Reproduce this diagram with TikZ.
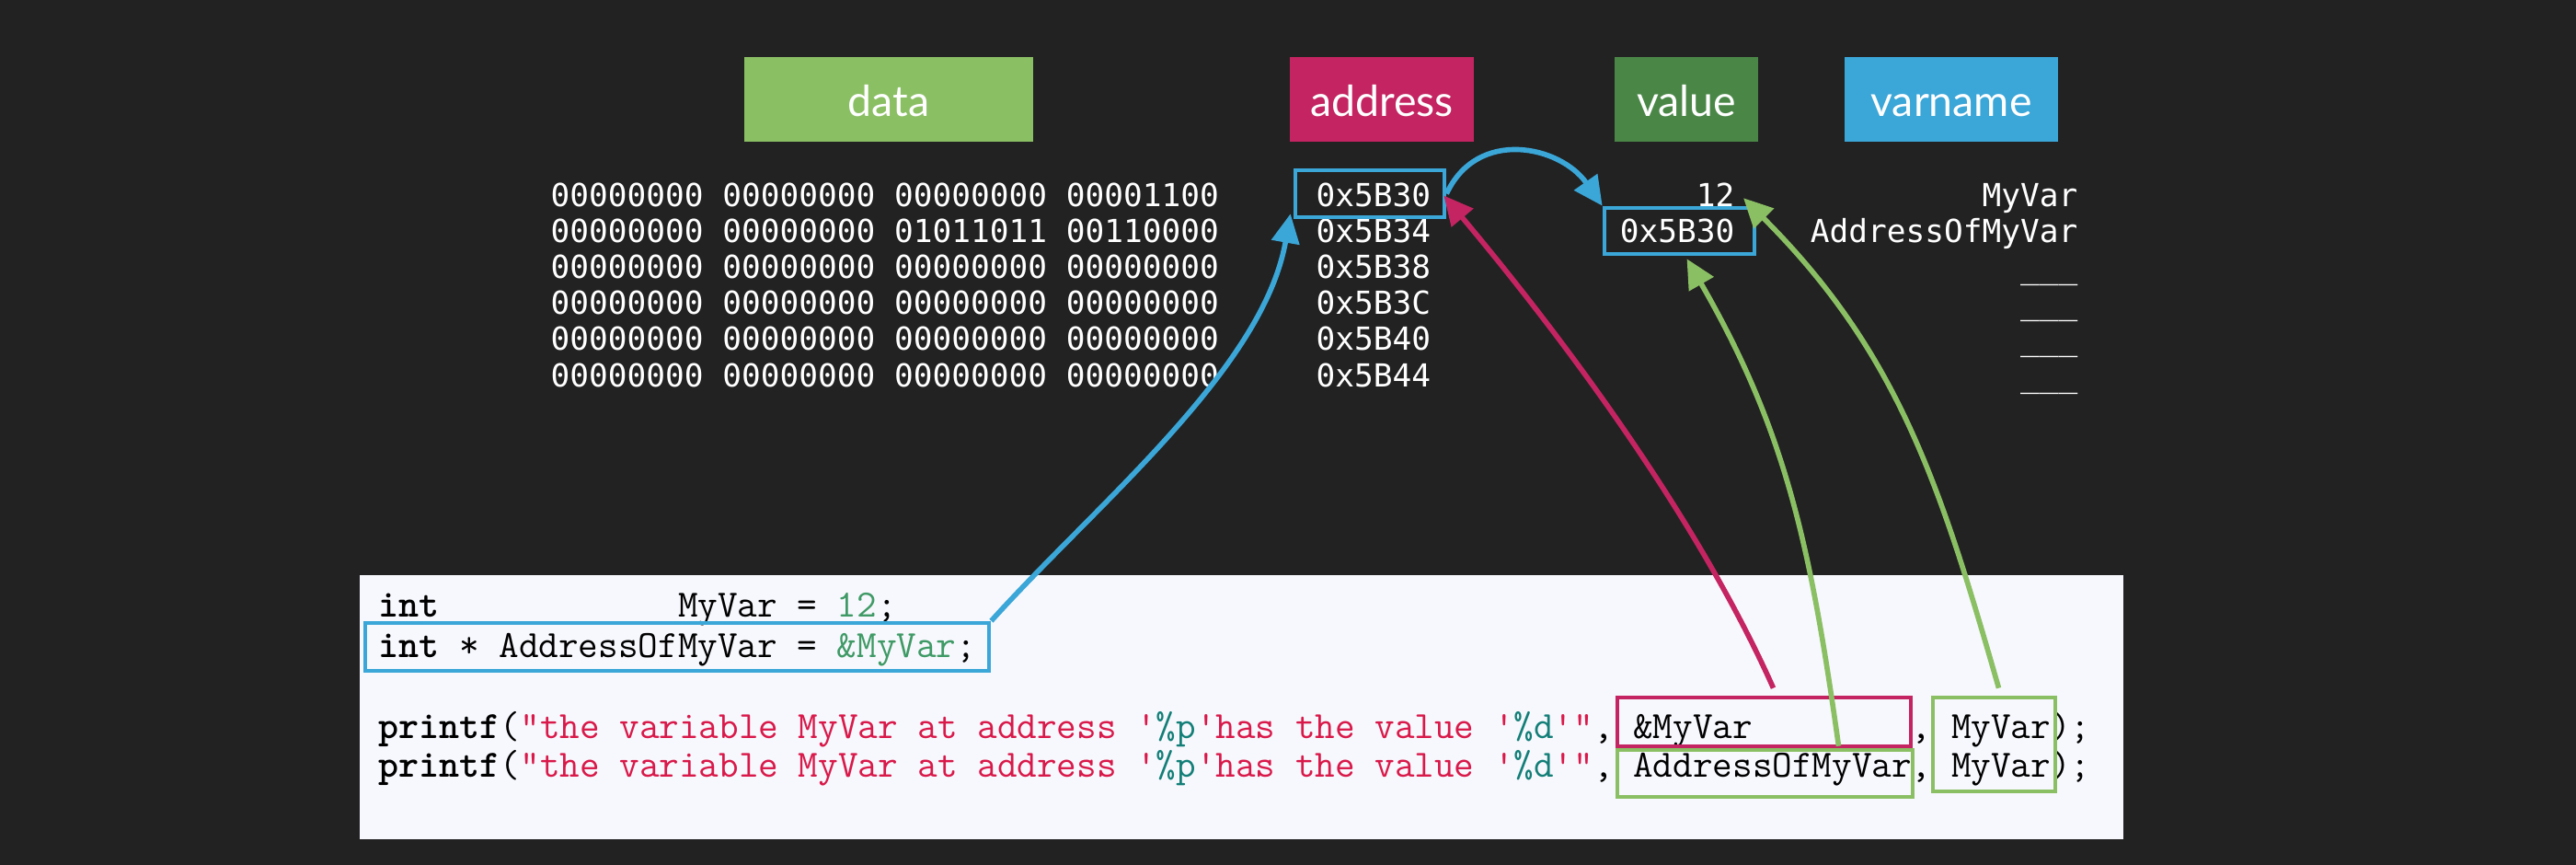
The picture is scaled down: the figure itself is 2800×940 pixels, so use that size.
\documentclass[tikz,border=0pt]{standalone}
\usepackage{fontspec}
\usepackage{xcolor}
\usepackage{tikz}
\usetikzlibrary{positioning}
\usetikzlibrary{arrows.meta}
\usetikzlibrary{math}

\setmainfont{Lato}
\newfontfamily\hexfont{DejaVu Sans Mono}

\definecolor{bgdark}{HTML}{222222}
\definecolor{datagreen}{HTML}{8BBF64}
\definecolor{addrred}{HTML}{C42461}
\definecolor{valgreen}{HTML}{4A8747}
\definecolor{nameblue}{HTML}{3BA6D8}
\definecolor{codebg}{HTML}{F7F8FD}
\definecolor{strred}{HTML}{D9194A}
\definecolor{fmtteal}{HTML}{137F78}
\definecolor{numgreen}{HTML}{3F9A66}

% code colouring
\newcommand{\ckw}[1]{{\bfseries #1}}
\newcommand{\cstr}[1]{\textcolor{strred}{#1}}
\newcommand{\cfmt}[1]{\textcolor{fmtteal}{#1}}
\newcommand{\clit}[1]{\textcolor{numgreen}{#1}}
\newcommand{\sq}{\textquotesingle}
\newcommand{\dq}{\textquotedbl}

\tikzset{
  head/.style={minimum height=0.92cm, inner sep=0pt, text=white, text height=13pt, text depth=2.5pt,
    font=\fontsize{13.2}{16}\selectfont},
  hexnum/.style={inner sep=0pt, text=white, font=\hexfont\fontsize{9.8}{12}\selectfont},
  codeline/.style={inner sep=0pt, anchor=base west, font=\ttfamily\fontsize{11.93}{14}\selectfont},
  hl/.style={draw, line width=1.3pt, inner sep=0pt},
  link/.style={line width=1.6pt, -{Triangle[length=9pt,width=8.5pt]}},
}

\begin{document}
\begin{tikzpicture}[x=0.01cm,y=0.01cm]

  \tikzmath{
    \rowsep = 39;  % distance between memory rows
    \rowtop = 225; % baseline of the first memory row
  }

  % Background
  \fill[bgdark] (0,0) rectangle (2800,-940);
  \useasboundingbox (0,0) rectangle (2800,-940);

  % Column headers
  \node[head, fill=datagreen, minimum width=3.14cm] (hdata) at (966,-108) {data};
  \node[head, fill=addrred, minimum width=2.00cm] (haddr) at (1502,-108) {address};
  \node[head, fill=valgreen, minimum width=1.56cm] (hval) at (1833,-108) {value};
  \node[head, fill=nameblue, minimum width=2.32cm] (hname) at (2121,-108) {varname};

  % Memory rows: bits and address
  \foreach \bits/\addr [count=\i] in {
      00000000 00000000 00000000 00001100/0x5B30,
      00000000 00000000 01011011 00110000/0x5B34,
      00000000 00000000 00000000 00000000/0x5B38,
      00000000 00000000 00000000 00000000/0x5B3C,
      00000000 00000000 00000000 00000000/0x5B40,
      00000000 00000000 00000000 00000000/0x5B44}{
    \node[hexnum, anchor=base west] (bits\i) at (598,{-\rowtop-\rowsep*(\i-1)}) {\bits};
    \node[hexnum, anchor=base west] (addr\i) at (1430,{-\rowtop-\rowsep*(\i-1)}) {\addr};
  }

  % Values and variable names
  \node[hexnum, anchor=base east] (v1) at (1886,-225) {12};
  \node[hexnum, anchor=base east] (v2) at (1886,-264) {0x5B30};
  \node[hexnum, anchor=base east] (n1) at (2259,-225) {MyVar};
  \node[hexnum, anchor=base east] (n2) at (2259,-264) {AddressOfMyVar};
  \foreach \i in {3,...,6}
    \node[hexnum, anchor=base east] (n\i) at (2259,{-\rowtop-\rowsep*(\i-1)}) {\_\_\_};

  % Code panel
  \fill[codebg] (391,-625) rectangle (2308,-912);
  \node[codeline] (c1) at (411,-670)
    {\ckw{int}\phantom{000000000000}MyVar = \clit{12};};
  \node[codeline] (c2) at (411,-714)
    {\ckw{int} * AddressOfMyVar = \clit{\&MyVar};};
  \node[codeline] (c3) at (411,-802)
    {\ckw{printf}(\cstr{\dq the variable MyVar at address \sq}\cfmt{\%p}\cstr{\sq has the value \sq}\cfmt{\%d}\cstr{\sq\dq}, \&MyVar\phantom{00000000}, MyVar);};
  \node[codeline] (c4) at (411,-844)
    {\ckw{printf}(\cstr{\dq the variable MyVar at address \sq}\cfmt{\%p}\cstr{\sq has the value \sq}\cfmt{\%d}\cstr{\sq\dq}, AddressOfMyVar, MyVar);};

  % Highlight boxes
  \node[hl, nameblue, minimum width=1.62cm, minimum height=0.51cm] (addrbox) at (1489,-210.5) {};
  \node[hl, nameblue, minimum width=1.63cm, minimum height=0.50cm] (valbox) at (1825.5,-251) {};
  \node[hl, nameblue, minimum width=6.78cm, minimum height=0.52cm] (linebox) at (736,-703) {};
  \node[hl, addrred, minimum width=3.19cm, minimum height=0.53cm] (refbox) at (1917.5,-784.5) {};
  \node[hl, datagreen, minimum width=3.21cm, minimum height=0.51cm] (ptrbox) at (1918.5,-840.5) {};
  \node[hl, datagreen, minimum width=1.33cm, minimum height=1.02cm] (varbox) at (2167.5,-809) {};

  % Links
  \draw[link, nameblue] (linebox.north east) to[out=48, in=-100, looseness=0.8] ([shift={(-3,6)}]addrbox.south west);
  \draw[link, nameblue] (addrbox.east) to[out=65, in=125, looseness=1.2] (valbox.north west);
  \draw[link, addrred] ([shift={(10,8)}]refbox.north) to[out=114, in=-50, looseness=0.8] ([shift={(-3,-2)}]addrbox.east);
  \draw[link, datagreen] ([shift={(80,2)}]ptrbox.north) to[out=98, in=-60] ([shift={(8,-3)}]valbox.south);
  \draw[link, datagreen] ([shift={(5,8)}]varbox.north) to[out=106, in=-45] ([shift={(9,-3)}]v1.east);

\end{tikzpicture}
\end{document}
